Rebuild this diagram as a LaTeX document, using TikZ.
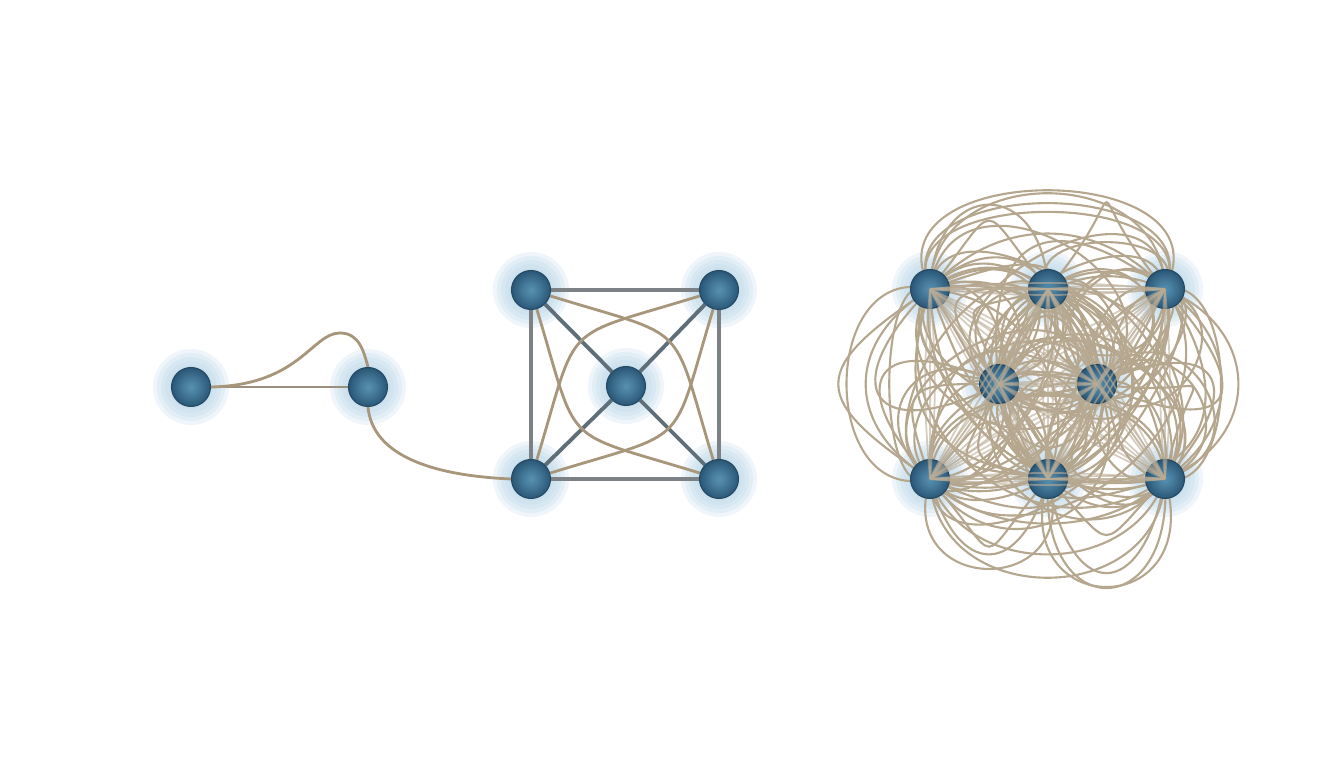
\documentclass[tikz,border=0pt]{standalone}
\usetikzlibrary{backgrounds}
\definecolor{balldark}{HTML}{2A5676}
\definecolor{balllight}{HTML}{5790AF}
\definecolor{halo}{HTML}{B5D3E6}
\definecolor{tan}{HTML}{A8967A}
\definecolor{wire}{HTML}{7B8184}
\definecolor{spokec}{HTML}{5F6F79}
\pgfdeclareradialshading{nodeshade}{\pgfpoint{0bp}{0bp}}{color(0bp)=(balllight); color(10bp)=(balllight!65!balldark); color(25bp)=(balldark); color(50bp)=(balldark)}
\pgfdeclarelayer{halo}
\pgfsetlayers{halo,background,main}

\begin{document}
\begin{tikzpicture}[dot/.style={circle,minimum size=0.39cm,inner sep=0pt,shading=nodeshade,draw=balldark!85!black,line width=0.3pt},
  cord/.style={draw=tan,line width=0.8pt},
  loop/.style={draw=tan!85!white,line width=0.6pt},
  fan/.style={draw=tan!80!white,line width=0.5pt,opacity=0.6},
  frame/.style={draw=wire,line width=1pt},
  spoke/.style={draw=spokec,line width=1.1pt}]
  \useasboundingbox (0,0) rectangle (13.44,7.68);

  % left pair
  \node[dot] (A1) at (1.91,3.81) {};
  \node[dot] (A2) at (3.68,3.81) {};

  % square with centre
  \node[dot] (B1) at (5.31,4.78) {};
  \node[dot] (B2) at (7.19,4.78) {};
  \node[dot] (B3) at (5.31,2.89) {};
  \node[dot] (B4) at (7.19,2.89) {};
  \node[dot] (B5) at (6.26,3.82) {};

  % dense cluster
  \def\xs{{9.30,10.48,11.65,9.99,10.97,9.30,10.48,11.65}}
  \def\ys{{4.79,4.79,4.79,3.84,3.84,2.89,2.89,2.89}}
  \foreach \i in {1,...,8} {
    \pgfmathsetmacro\x{\xs[\i-1]}
    \pgfmathsetmacro\y{\ys[\i-1]}
    \node[dot] (C\i) at (\x,\y) {};
  }

  % soft glow behind every node
  \begin{pgfonlayer}{halo}
    \foreach \n in {A1,A2,B1,B2,B3,B4,B5,C1,C2,C3,C4,C5,C6,C7,C8}
      \foreach \r in {0.22,0.26,0.30,0.34,0.38}
        \fill[halo,opacity=0.22] (\n) circle (\r);
  \end{pgfonlayer}

  \begin{pgfonlayer}{background}
    \draw[cord,draw=tan!70!wire] (A1) -- (A2);
    \draw[cord] (A1.east) .. controls (3.0,3.83) and (3.12,4.35) .. (3.40,4.35)
      .. controls (3.60,4.35) and (3.64,4.15) .. (A2.north);
    \draw[cord] (A2.south) .. controls (3.72,3.18) and (4.2,2.93) .. (B3.west);

    \draw[frame] (B1) -- (B2) -- (B4) -- (B3) -- (B1);
    \foreach \n in {B1,B2,B3,B4}
      \draw[spoke] (B5) -- (\n);
    \draw[cord] (B1) to[bend left=28,looseness=1.65] (B4);
    \draw[cord] (B1) to[bend right=28,looseness=1.65] (B4);
    \draw[cord] (B2) to[bend left=28,looseness=1.65] (B3);
    \draw[cord] (B2) to[bend right=28,looseness=1.65] (B3);

    % round loops between every pair
    \pgfmathsetseed{3}
    \foreach \i [evaluate=\i as \s using int(\i+1)] in {1,...,7} {
      \foreach \j in {\s,...,8} {
        \pgfmathsetmacro\d{veclen(\xs[\i-1]-\xs[\j-1],\ys[\i-1]-\ys[\j-1])}
        \foreach \k in {1,...,5} {
          \pgfmathsetmacro\bend{(rnd<0.5 ? -1 : 1)*(45+75*rnd)}
          \pgfmathsetmacro\loose{(0.6+0.95*rnd)/(0.39*\d)}
          \draw[loop] (C\i.center) to[bend left=\bend,looseness=\loose] (C\j.center);
        }
      }
    }
  \end{pgfonlayer}

  % straight fans over the cluster
  \foreach \i [evaluate=\i as \s using int(\i+1)] in {1,...,7} {
    \foreach \j in {\s,...,8} {
      \foreach \b in {-5,0,5}
        \draw[fan] (C\i.center) to[bend left=\b] (C\j.center);
    }
  }
\end{tikzpicture}
\end{document}
